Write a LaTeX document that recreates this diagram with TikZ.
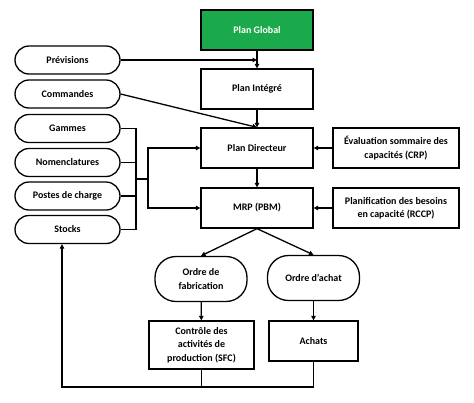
\documentclass[tikz,border=0pt]{standalone}
\usepackage{fontspec}
\setmainfont{Carlito}
\usetikzlibrary{arrows.meta,positioning,calc}
\definecolor{pgreen}{HTML}{1BAA4B}
\begin{document}
\begin{tikzpicture}[x=1pt,y=-1pt,
  every node/.style={font=\bfseries\fontsize{10}{13.3}\selectfont, align=center, inner sep=1pt},
  box/.style={draw, line width=1.3pt, minimum width=112pt, minimum height=40pt},
  sidebox/.style={draw, line width=1.3pt, minimum width=126pt, minimum height=40pt},
  pill/.style={draw, line width=1.3pt, rounded corners=14pt, minimum width=105pt, minimum height=28pt},
  ordre/.style={draw, line width=1.3pt, rounded corners=21pt, minimum width=92pt, minimum height=45pt},
  conn/.style={line width=1.3pt},
  arr/.style={line width=1.3pt, -{Triangle[length=4.5pt,width=4.5pt]}}
]
\useasboundingbox (0,0) rectangle (474,402);
\node[box, fill=pgreen, text=white] (pg) at (257,30) {Plan Global};
\node[box] (pi) at (257,89) {Plan Intégré};
\node[box] (pd) at (257,148) {Plan Directeur};
\node[box] (mrp) at (257,208) {MRP (PBM)};
\node[sidebox] (crp) at (396,148) {Évaluation sommaire des\\capacités (CRP)};
\node[sidebox] (rccp) at (396,208) {Planification des besoins\\en capacité (RCCP)};
\node[pill] (prev) at (67.5,60) {Prévisions};
\node[pill] (cmd) at (67.5,94) {Commandes};
\node[pill] (gam) at (67.5,128.5) {Gammes};
\node[pill] (nom) at (67.5,162.5) {Nomenclatures};
\node[pill] (pdc) at (67.5,196) {Postes de charge};
\node[pill] (stk) at (67.5,229.5) {Stocks};
\node[ordre] (of) at (201,279) {Ordre de\\fabrication};
\node[ordre] (oa) at (313.5,278) {Ordre d’achat};
\node[draw, line width=1.3pt, minimum width=105pt, minimum height=48pt] (sfc) at (201.5,345) {Contrôle des\\activités de\\production (SFC)};
\node[draw, line width=1.3pt, minimum width=89pt, minimum height=40pt] (ach) at (313.5,341) {Achats};
\coordinate (bus1) at (136,128.5);
\coordinate (bus2) at (136,229.5);
\coordinate (busm) at (136,179);
\coordinate (bv) at (148,179);
\coordinate (fb) at (62,387);

\draw[arr] (pg) -- (pi);
\draw[arr] (prev.east) -- (pi.north |- prev.east);
\draw[arr] (pi) -- (pd);
\draw[arr] (cmd.east) -- (pd.north);
\draw[arr] (pd) -- (mrp);
\draw[arr] (crp) -- (pd);
\draw[arr] (rccp) -- (mrp);
\draw[conn] (gam.east) -- (bus1) -- (bus2) -- (stk.east);
\draw[conn] (nom.east) -- (nom.east -| bus1);
\draw[conn] (pdc.east) -- (pdc.east -| bus1);
\draw[conn] (busm) -- (bv);
\draw[arr] (bv) |- (pd.west);
\draw[arr] (bv) |- (mrp.west);
\draw[arr] (mrp.south) -- (of.north);
\draw[arr] (mrp.south) -- (oa.north);
\draw[arr] (of) -- (sfc);
\draw[arr] (oa) -- (ach);
\draw[conn] (sfc.south) -- (sfc.south |- fb);
\draw[arr] (ach.south) |- (fb) -- (stk.south -| fb);
\end{tikzpicture}
\end{document}
